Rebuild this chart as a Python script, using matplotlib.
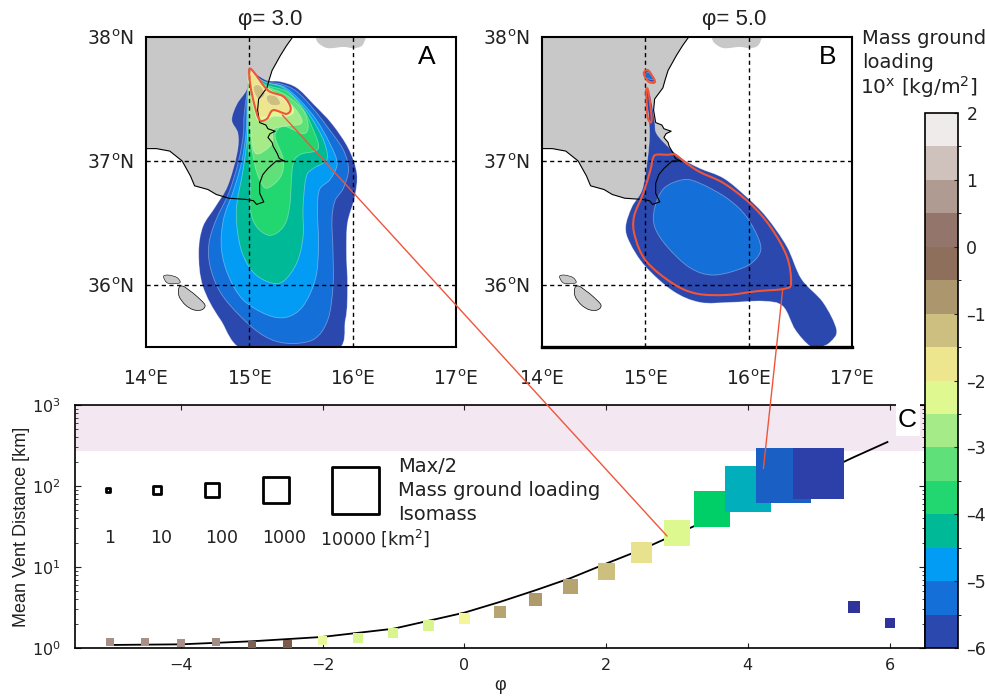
#!/usr/bin/env python

import matplotlib
matplotlib.use("Agg")
import matplotlib.pyplot as plt
from matplotlib.colors import ListedColormap, BoundaryNorm
from matplotlib.cm import ScalarMappable
from matplotlib.patches import PathPatch, Polygon, Rectangle, ConnectionPatch
from matplotlib.path import Path
from matplotlib.ticker import LogLocator, NullFormatter

# colour levels, 10^x kg/m2, from -6 up to 2
levels = [-6, -5.5, -5, -4.5, -4, -3.5, -3, -2.5, -2, -1.5, -1, -0.5, 0, 0.5, 1, 1.5, 2]
level_colors = ["#2a48ad", "#1470d8", "#039cf4", "#00ba97", "#22d670", "#60e078", "#a5ec88", "#e0f890",
                "#eee68e", "#cdbf7f", "#ab966e", "#8e6f5c", "#94756b", "#b09b93", "#cfc2bc", "#efebea"]

# coast outlines, lon/lat
sicily = [(15.42,38.00),(15.36,37.93),(15.30,37.85),(15.22,37.73),(15.19,37.65),(15.17,37.59),(15.09,37.50),
          (15.08,37.41),(15.10,37.31),(15.16,37.29),(15.18,37.26),(15.25,37.24),(15.20,37.22),(15.18,37.19),
          (15.22,37.15),(15.23,37.12),(15.27,37.06),(15.29,37.02),(15.34,37.00),(15.26,37.00),(15.18,36.94),
          (15.13,36.89),(15.10,36.82),(15.10,36.74),(15.14,36.67),(15.07,36.65),(15.04,36.68),(14.97,36.69),
          (14.80,36.70),(14.68,36.73),(14.60,36.77),(14.47,36.80),(14.43,36.88),(14.35,37.00),(14.23,37.08),
          (14.10,37.10),(14.00,37.10)]
calabria = [(15.64,38.02),(15.64,38.00),(15.67,37.95),(15.76,37.91),(15.91,37.92),(16.01,37.91),(16.09,37.93),
            (16.13,38.00),(16.13,38.02)]
gozo = [(14.17,36.07),(14.22,36.08),(14.30,36.06),(14.33,36.02),(14.26,36.01),(14.20,36.02)]
malta = [(14.32,35.98),(14.36,35.99),(14.43,35.95),(14.49,35.91),(14.57,35.84),(14.54,35.80),(14.46,35.80),
         (14.38,35.84),(14.32,35.91)]

# panel A contours (phi = 3)
a_m6 = [(15.00,37.74),(15.05,37.71),(15.17,37.65),(15.30,37.64),(15.46,37.59),(15.62,37.46),(15.80,37.30),
        (15.96,37.10),(16.04,36.90),(16.02,36.71),(15.95,36.50),(15.94,36.26),(15.95,35.99),(15.93,35.72),
        (15.81,35.46),(14.99,35.46),(14.72,35.72),(14.55,35.99),(14.51,36.26),(14.55,36.47),(14.67,36.63),
        (14.79,36.80),(14.88,37.06),(14.89,37.22),(14.83,37.33),(14.88,37.46),(14.97,37.57),(14.99,37.68)]
a_m55 = [(15.00,37.73),(15.05,37.69),(15.15,37.64),(15.31,37.62),(15.46,37.56),(15.62,37.42),(15.76,37.27),
         (15.91,37.09),(15.96,36.93),(15.91,36.78),(15.83,36.68),(15.80,36.53),(15.81,36.26),(15.81,35.99),
         (15.76,35.72),(15.62,35.56),(15.36,35.53),(15.14,35.59),(14.91,35.75),(14.72,35.94),(14.62,36.15),
         (14.61,36.34),(14.68,36.53),(14.80,36.74),(14.89,36.98),(14.94,37.20),(14.95,37.38),(14.98,37.57)]
a_m5 = [(15.00,37.73),(15.07,37.68),(15.16,37.63),(15.33,37.60),(15.49,37.49),(15.65,37.33),(15.78,37.14),
        (15.85,36.98),(15.78,36.85),(15.68,36.77),(15.66,36.61),(15.67,36.31),(15.64,36.05),(15.52,35.83),
        (15.36,35.74),(15.17,35.76),(14.94,35.88),(14.80,36.07),(14.73,36.29),(14.75,36.53),(14.85,36.77),
        (14.93,37.01),(14.97,37.25),(14.98,37.54)]
a_m45 = [(15.00,37.73),(15.07,37.68),(15.17,37.63),(15.33,37.59),(15.52,37.44),(15.65,37.28),(15.73,37.14),
         (15.75,37.01),(15.62,36.94),(15.55,36.87),(15.52,36.63),(15.52,36.39),(15.46,36.18),(15.33,36.03),
         (15.20,36.02),(15.04,36.10),(14.93,36.26),(14.88,36.47),(14.88,36.66),(14.94,36.93),(14.98,37.20),
         (14.99,37.52)]
a_m4 = [(15.00,37.73),(15.07,37.67),(15.17,37.61),(15.36,37.56),(15.52,37.42),(15.62,37.25),(15.67,37.13),
        (15.64,37.08),(15.49,37.05),(15.42,36.96),(15.39,36.63),(15.33,36.47),(15.20,36.40),(15.07,36.47),
        (15.01,36.61),(15.01,36.85),(14.98,37.25),(14.99,37.52)]
a_m35 = [(15.00,37.73),(15.07,37.66),(15.17,37.60),(15.36,37.53),(15.52,37.41),(15.57,37.28),(15.52,37.22),
         (15.33,37.28),(15.25,37.20),(15.33,37.01),(15.30,36.87),(15.17,36.78),(15.10,36.85),(15.05,36.98),
         (15.00,37.25),(14.99,37.49)]
a_m3 = [(15.00,37.73),(15.08,37.65),(15.17,37.59),(15.36,37.49),(15.48,37.38),(15.50,37.30),(15.33,37.28),
        (15.23,37.25),(15.22,37.14),(15.10,37.06),(15.04,37.09),(15.01,37.28),(14.99,37.49)]
a_m25 = [(15.00,37.73),(15.08,37.65),(15.18,37.58),(15.36,37.49),(15.43,37.40),(15.36,37.36),(15.23,37.36),
         (15.15,37.32),(15.08,37.33),(15.04,37.44),(15.00,37.60)]
a_m2 = [(15.01,37.73),(15.08,37.66),(15.18,37.57),(15.33,37.50),(15.39,37.42),(15.35,37.38),(15.23,37.41),
        (15.17,37.36),(15.10,37.36),(15.05,37.45),(15.01,37.60)]
a_m15_west = [(15.04,37.60),(15.10,37.61),(15.15,37.54),(15.10,37.50),(15.06,37.53)]
a_m15_east = [(15.18,37.53),(15.26,37.52),(15.30,37.46),(15.22,37.45),(15.17,37.49)]
a_half = [(15.00,37.74),(15.05,37.71),(15.18,37.57),(15.33,37.52),(15.40,37.43),(15.36,37.38),(15.23,37.41),
          (15.17,37.34),(15.10,37.33),(15.05,37.45),(15.01,37.61)]

# panel B contours (phi = 5)
b_m6 = [(15.01,37.58),(15.05,37.52),(15.09,37.32),(15.11,37.22),(15.24,37.10),(15.37,37.01),(15.53,36.94),
        (15.76,36.86),(15.98,36.71),(16.17,36.55),(16.37,36.31),(16.51,36.05),(16.72,35.86),(16.85,35.64),
        (16.79,35.54),(16.69,35.50),(16.59,35.51),(16.45,35.64),(16.33,35.83),(16.14,35.87),(15.82,35.86),
        (15.53,35.86),(15.27,35.95),(15.00,36.15),(14.85,36.34),(14.81,36.47),(14.87,36.63),(14.97,36.77),
        (15.02,37.01),(15.04,37.20),(15.03,37.38),(15.00,37.54)]
b_m55 = [(15.37,36.85),(15.53,36.82),(15.79,36.70),(15.98,36.55),(16.11,36.34),(16.09,36.23),(15.95,36.14),
         (15.66,36.08),(15.43,36.14),(15.21,36.31),(15.09,36.47),(15.09,36.62),(15.18,36.78)]
b_top_m6 = [(14.99,37.72),(15.04,37.72),(15.10,37.65),(15.05,37.64),(14.99,37.68)]
b_top_m55 = [(15.00,37.71),(15.04,37.71),(15.08,37.66),(15.04,37.66),(15.00,37.68)]
b_half = [(15.10,37.05),(15.21,37.05),(15.29,37.05),(15.40,36.98),(15.53,36.91),(15.76,36.82),(16.01,36.66),
          (16.21,36.47),(16.37,36.23),(16.41,36.02),(16.35,35.97),(16.08,35.95),(15.79,35.92),(15.50,35.93),
          (15.27,36.01),(15.01,36.19),(14.90,36.39),(14.89,36.55),(14.98,36.74),(15.05,36.93),(15.07,37.01)]
b_half_strip = [(15.01,37.58),(15.03,37.56),(15.06,37.36),(15.05,37.31),(15.02,37.36),(15.01,37.52)]
b_half_top = [(14.99,37.72),(15.03,37.73),(15.09,37.65),(15.08,37.63),(15.03,37.64),(14.99,37.69)]

# panel C: mean vent distance per phi class
phi = [-5, -4.5, -4, -3.5, -3, -2.5, -2, -1.5, -1, -0.5, 0, 0.5, 1, 1.5, 2, 2.5, 3, 3.5, 4, 4.5, 5, 5.5, 6]
distance = [1.17, 1.17, 1.16, 1.17, 1.10, 1.12, 1.24, 1.33, 1.53, 1.89, 2.30, 2.76, 3.95, 5.71, 8.76, 15.0,
            26, 51.5, 91, 134, 142, 3.18, 2.02]
square_px = [8, 8, 8, 8, 8, 9, 9, 10, 10, 11, 11, 12, 13, 15, 17, 21, 26, 36, 46, 55, 51, 12, 10]
square_colors = ["#a89088", "#a89088", "#a89088", "#a38c84", "#7e5f52", "#7c5a4c", "#e8f89a", "#d8f590",
                 "#d8f590", "#d8f590", "#f5f59a", "#b6a570", "#ae9a6b", "#b5a470", "#cdbf7d", "#e8e28e",
                 "#ddf88e", "#00ce66", "#00aebc", "#1a60c4", "#2d3fa8", "#303399", "#303399"]
curve_phi = [-5, -4, -3, -2, -1, 0, 0.5, 1, 1.5, 2, 2.5, 3, 3.5, 4, 4.5, 5, 5.5, 5.97]
curve_dist = [1.09, 1.11, 1.21, 1.37, 1.73, 2.73, 3.7, 5.15, 7.3, 11, 16.4, 25.8, 40, 72, 112, 142, 228, 349]

size_phi = [-5.03, -4.33, -3.56, -2.66, -1.53]
size_px = [4, 8, 14, 26, 47]
size_label_phi = [-5.01, -4.28, -3.43, -2.54]
size_labels = ["1", "10", "100", "1000"]

red = "#f0553a"
sans = "Liberation Sans"
ink = "#222222"
W, H = 985, 696


def box(left, top, right, bottom):
    return [left / W, 1 - bottom / H, (right - left) / W, (bottom - top) / H]


def smooth(points):
    # closed curve through the listed points (catmull-rom as bezier segments)
    n = len(points)
    verts = [points[0]]
    codes = [Path.MOVETO]
    for i in range(n):
        p0, p1, p2, p3 = points[i - 1], points[i], points[(i + 1) % n], points[(i + 2) % n]
        verts.append((p1[0] + (p2[0] - p0[0]) / 6, p1[1] + (p2[1] - p0[1]) / 6))
        verts.append((p2[0] - (p3[0] - p1[0]) / 6, p2[1] - (p3[1] - p1[1]) / 6))
        verts.append(p2)
        codes += [Path.CURVE4] * 3
    return Path(verts, codes)


def fill(ax, points, level):
    ax.add_patch(PathPatch(smooth(points), fc=level_colors[levels.index(level)],
                           ec=(1, 1, 1, 0.35), lw=0.6, zorder=2))


def outline(ax, points):
    ax.add_patch(PathPatch(smooth(points), fc="none", ec=red, lw=1.5, zorder=4))


def base_map(ax):
    land = "#c8c8c8"
    ax.add_patch(Polygon([(14, 38)] + sicily, fc=land, ec="none", zorder=1))
    for shape in [calabria, gozo, malta]:
        ax.add_patch(PathPatch(smooth(shape), fc=land, ec="none", zorder=1))
    ax.set_xlim(14, 17)
    ax.set_ylim(35.5, 38)
    ax.set_xticks([14, 15, 16, 17], ["%d$^{\\mathrm{o}}$E" % v for v in [14, 15, 16, 17]])
    ax.set_yticks([36, 37, 38], ["%d$^{\\mathrm{o}}$N" % v for v in [36, 37, 38]])
    ax.tick_params(length=0, labelsize=13.5, pad=9, colors=ink)
    ax.tick_params(axis="x", pad=16)
    for s in ax.spines.values():
        s.set_linewidth(1.5)


def overlay(ax):
    ax.plot(*zip(*sicily), color="black", lw=0.8, zorder=3)
    ax.add_patch(PathPatch(smooth(gozo), fc="none", ec="black", lw=0.4, zorder=3))
    ax.add_patch(PathPatch(smooth(malta), fc="none", ec="black", lw=0.5, zorder=3))
    for v in [15, 16]:
        ax.axvline(v, color="black", lw=1, ls=(0, (3, 2.5)), zorder=3)
    for v in [36, 37]:
        ax.axhline(v, color="black", lw=1, ls=(0, (3, 2.5)), zorder=3)


fig = plt.figure(figsize=(W / 100, H / 100), dpi=100)

ax_a = fig.add_axes(box(146, 37, 456, 347))
base_map(ax_a)
for pts, lev in [(a_m6, -6), (a_m55, -5.5), (a_m5, -5), (a_m45, -4.5), (a_m4, -4), (a_m35, -3.5), (a_m3, -3),
                 (a_m25, -2.5), (a_m2, -2), (a_m15_west, -1.5), (a_m15_east, -1.5)]:
    fill(ax_a, pts, lev)
outline(ax_a, a_half)
overlay(ax_a)
ax_a.text(0.905, 0.935, "A", transform=ax_a.transAxes, fontsize=19, family=sans, ha="center", va="center", zorder=5)

ax_b = fig.add_axes(box(542, 37, 852, 347))
base_map(ax_b)
ax_b.spines["bottom"].set_linewidth(2.4)
for pts, lev in [(b_m6, -6), (b_m55, -5.5), (b_top_m6, -6), (b_top_m55, -5.5)]:
    fill(ax_b, pts, lev)
for pts in [b_half, b_half_strip, b_half_top]:
    outline(ax_b, pts)
overlay(ax_b)
ax_b.text(0.92, 0.935, "B", transform=ax_b.transAxes, fontsize=19, family=sans, ha="center", va="center", zorder=5)

fig.text(270 / W, 1 - 20 / H, "\u03c6= 3.0", fontsize=16, family=sans, ha="center", va="center", color=ink)
fig.text(734 / W, 1 - 20 / H, "\u03c6= 5.0", fontsize=16, family=sans, ha="center", va="center", color=ink)

ax_c = fig.add_axes(box(74.5, 405, 925, 648))
ax_c.set_xlim(-5.5, 6.5)
ax_c.set_ylim(1, 1000)
ax_c.set_yscale("log")
ax_c.axhspan(270, 1000, color="#f3e7f2", lw=0, zorder=0)
ax_c.plot(curve_phi, curve_dist, color="black", lw=1.3, zorder=2)
ax_c.scatter(phi, distance, s=[(p * 0.72) ** 2 for p in square_px], c=square_colors, marker="s", lw=0, zorder=3)
ax_c.scatter(size_phi, [89] * 5, s=[(p * 0.72) ** 2 for p in size_px], marker="s", fc="none", ec="black", lw=2,
             zorder=3)
for x, label in zip(size_label_phi, size_labels):
    ax_c.text(x, 22.8, label, fontsize=12.5, ha="center", va="center", color=ink)
ax_c.text(-2.04, 22.8, "10000 [km$^2$]", fontsize=12.5, ha="left", va="center", color=ink)
ax_c.text(-0.94, 175, "Max/2", fontsize=14, va="center", color=ink)
ax_c.text(-0.94, 89, "Mass ground loading", fontsize=14, va="center", color=ink)
ax_c.text(-0.94, 44, "Isomass", fontsize=14, va="center", color=ink)
ax_c.add_patch(Rectangle((6.09, 410), 0.34, 620, fc="white", ec="none", zorder=3, clip_on=False))
ax_c.text(6.25, 660, "C", fontsize=19, family=sans, ha="center", va="center", zorder=5)
ax_c.set_xticks([-4, -2, 0, 2, 4, 6])
ax_c.yaxis.set_major_locator(LogLocator(base=10, numticks=12))
ax_c.yaxis.set_minor_locator(LogLocator(base=10, subs=range(2, 10), numticks=12))
ax_c.yaxis.set_minor_formatter(NullFormatter())
ax_c.tick_params(which="both", direction="in", top=True, right=True, labelsize=11.5, colors=ink)
ax_c.tick_params(axis="x", which="both", top=True, pad=7, length=3.6)
ax_c.tick_params(axis="y", which="major", length=4.5, pad=10)
ax_c.tick_params(axis="y", which="minor", length=2.2)
ax_c.set_xlabel("\u03c6", fontsize=13, family=sans, labelpad=3, color=ink)
ax_c.set_ylabel("Mean Vent Distance [km]", fontsize=13, family=sans, labelpad=1, color=ink)
for s in ax_c.spines.values():
    s.set_linewidth(1.2)

# colorbar
cax = fig.add_axes(box(925, 113, 958, 648))
cmap = ListedColormap(level_colors)
cb = fig.colorbar(ScalarMappable(BoundaryNorm(levels, cmap.N), cmap), cax=cax, spacing="uniform")
cb.set_ticks(list(range(-6, 3)), labels=[str(v).replace("-", "\u2013") for v in range(-6, 3)])
cb.ax.tick_params(direction="in", length=3, labelsize=12.5, pad=6, colors=ink)
cb.outline.set_linewidth(1.2)
fig.text(862 / W, 1 - 38 / H, "Mass ground", fontsize=14, va="center", color=ink)
fig.text(862 / W, 1 - 63 / H, "loading", fontsize=14, va="center", color=ink)
fig.text(860 / W, 1 - 87 / H, "10$^{\\mathrm{x}}$ [kg/m$^{2}$]", fontsize=14.5, va="center", color=ink)

# lines from the maps down to their squares
for ax_from, xy_from, xy_to in [(ax_a, (15.32, 37.37), (2.86, 24.1)), (ax_b, (16.33, 35.97), (4.22, 164))]:
    fig.add_artist(ConnectionPatch(xyA=xy_from, coordsA=ax_from.transData, xyB=xy_to, coordsB=ax_c.transData,
                                   color=red, lw=1, zorder=6))

plt.savefig("out.png", dpi=100)
